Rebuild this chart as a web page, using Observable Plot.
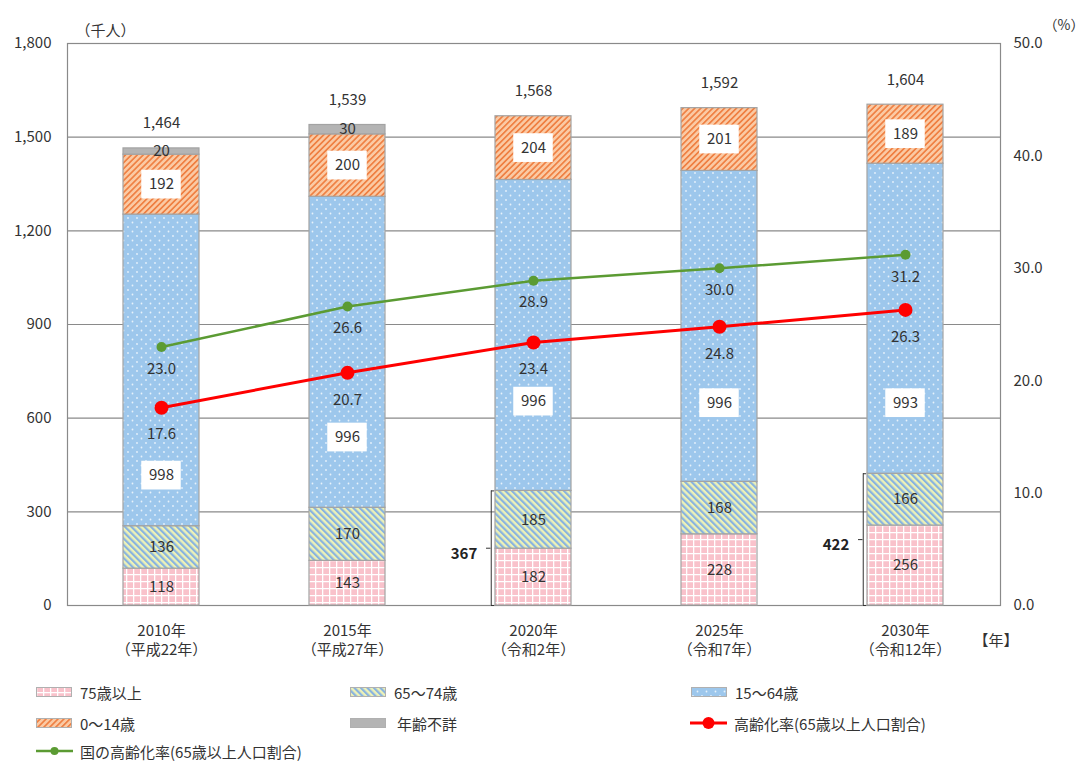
<!DOCTYPE html>
<html>
<head>
<meta charset="utf-8">
<script src="https://cdn.jsdelivr.net/npm/d3@7"></script>
<script src="https://cdn.jsdelivr.net/npm/@observablehq/plot@0.6"></script>
<style>
  body { margin: 0; background: #fff; font-family: "Noto Sans CJK JP", "Noto Sans", sans-serif; color: #333; }
  #wrap { position: relative; width: 1086px; height: 762px; overflow: hidden; }
  #legend { position: absolute; left: 0; top: 670px; width: 1086px; height: 92px; }
  .item { position: absolute; display: flex; align-items: center; font-size: 15px; color: #333; white-space: nowrap; }
</style>
</head>
<body>
<div id="wrap">
  <div id="chart"></div>
  <div id="legend"></div>
</div>
<script>
// ---- data ----
const years = ["2010", "2015", "2020", "2025", "2030"];
const yearLabels = ["2010年\n（平成22年）", "2015年\n（平成27年）", "2020年\n（令和2年）", "2025年\n（令和7年）", "2030年\n（令和12年）"];
const categories = ["75歳以上", "65～74歳", "15～64歳", "0～14歳", "年齢不詳"];
const age75plus = [118, 143, 182, 228, 256];
const age65to74 = [136, 170, 185, 168, 166];
const age15to64 = [998, 996, 996, 996, 993];
const age0to14 = [192, 200, 204, 201, 189];
const ageUnknown = [20, 30, 0, 0, 0];
const totals = [1464, 1539, 1568, 1592, 1604];
const agingRate = [17.6, 20.7, 23.4, 24.8, 26.3];
const nationalRate = [23.0, 26.6, 28.9, 30.0, 31.2];
const elderlyBracket = [null, null, 367, null, 422];
const leftTicks = [0, 300, 600, 900, 1200, 1500, 1800];
const rightTicks = [0, 10, 20, 30, 40, 50];

// label anchors for the 15-64 segment (thousand-person units, placement only)
const mid15LabelAt = [416, 538, 653, 648, 648];

// ---- layout ----
const W = 1086, H = 670;
const mL = 67, mR = 86, mT = 43, mB = 65;
const pInner = 0.59;
const bw = (W - mL - mR) / years.length * (1 - pInner);
const k = 1800 / 50; // % -> thousand scale factor

const series = [age75plus, age65to74, age15to64, age0to14, ageUnknown];
const table = [];
years.forEach((y, i) => {
  let cum = 0;
  series.forEach((s, j) => {
    const v = s[i];
    if (v > 0) table.push({year: y, cat: categories[j], value: v, mid: cum + v / 2});
    cum += v;
  });
});
const lab75 = table.filter(d => d.cat === categories[0]);
const lab65 = table.filter(d => d.cat === categories[1]);
const lab0 = table.filter(d => d.cat === categories[3]);
const labUnk = table.filter(d => d.cat === categories[4]);
const lab15 = years.map((y, i) => ({year: y, value: age15to64[i], pos: mid15LabelAt[i]}));
const boxed = [...lab15.map(d => ({year: d.year, pos: d.pos})), ...lab0.map(d => ({year: d.year, pos: d.mid}))];
const totalData = years.map((y, i) => ({year: y, total: totals[i]}));
const rateData = years.map((y, i) => ({year: y, v: agingRate[i]}));
const natData = years.map((y, i) => ({year: y, v: nationalRate[i]}));
const brData = years.map((y, i) => ({year: y, v: elderlyBracket[i]})).filter(d => d.v != null);

const patterns = ["url(#p75)", "url(#p65)", "url(#p15)", "url(#p0)", "#b4b4b4"];
const txt = "#333";

const chart = Plot.plot({
  width: W, height: H,
  marginLeft: mL, marginRight: mR, marginTop: mT, marginBottom: mB,
  style: {fontFamily: '"Noto Sans CJK JP", "Noto Sans", sans-serif', fontSize: "15px", color: txt, background: "#fff"},
  x: {type: "band", domain: years, paddingInner: pInner, paddingOuter: pInner / 2, axis: null},
  y: {domain: [0, 1800], axis: null},
  color: {domain: categories, range: patterns},
  marks: [
    Plot.gridY(leftTicks, {stroke: "#8a8a8a", strokeOpacity: 1, strokeWidth: 1.2}),
    Plot.frame({stroke: "#8a8a8a", strokeWidth: 1.2}),
    Plot.axisY({ticks: leftTicks, tickSize: 0, tickPadding: 16, tickFormat: d3.format(","), fill: txt, label: null}),
    Plot.axisY({anchor: "right", ticks: rightTicks.map(t => t * k), tickSize: 0, tickPadding: 13, tickFormat: d => (d / k).toFixed(1), fill: txt, label: null}),
    Plot.axisX({ticks: years, tickSize: 0, tickPadding: 17, lineHeight: 1.27, tickFormat: (d) => yearLabels[years.indexOf(d)], fill: txt, label: null}),
    Plot.barY(table, {x: "year", y: "value", fill: "cat", stroke: "#a3a3a3", strokeWidth: 1.2}),
    Plot.rect(boxed, {x: "year", y1: d => d.pos - 46, y2: d => d.pos + 46, fill: "white", insetLeft: (bw - 40) / 2, insetRight: (bw - 40) / 2}),
    Plot.text(lab75, {x: "year", y: "mid", text: d => d.value, fill: txt}),
    Plot.text(lab65, {x: "year", y: "mid", text: d => d.value, fill: txt}),
    Plot.text(lab0, {x: "year", y: "mid", text: d => d.value, fill: txt}),
    Plot.text(labUnk, {x: "year", y: "mid", text: d => d.value, fill: txt}),
    Plot.text(lab15, {x: "year", y: "pos", text: d => d.value, fill: txt}),
    Plot.text(totalData, {x: "year", y: "total", text: d => d3.format(",")(d.total), dy: -25, fill: txt}),
    // brackets
    Plot.ruleX(brData, {x: "year", y1: 0, y2: "v", dx: -bw / 2 - 4, stroke: "#333", strokeWidth: 1}),
    Plot.tickY(brData, {x: "year", y: "v", insetLeft: -4, insetRight: bw + 0.5, stroke: "#333"}),
    Plot.tickY(brData, {x: "year", y: 0, insetLeft: -4, insetRight: bw + 0.5, stroke: "#333"}),
    Plot.tickY(brData, {x: "year", y: d => d.v / 2, insetLeft: -9, insetRight: bw + 4, stroke: "#333"}),
    Plot.text(brData, {x: "year", y: d => d.v / 2, text: d => d.v, textAnchor: "end", dx: -bw / 2 - 18, dy: 6, fontWeight: "bold", fill: "#222"}),
    // lines
    Plot.line(natData, {x: "year", y: d => d.v * k, stroke: "#5b9b33", strokeWidth: 2.5}),
    Plot.dot(natData, {x: "year", y: d => d.v * k, r: 5, fill: "#5b9b33"}),
    Plot.text(natData, {x: "year", y: d => d.v * k, text: d => d.v.toFixed(1), dy: 22, fill: txt}),
    Plot.line(rateData, {x: "year", y: d => d.v * k, stroke: "#ff0000", strokeWidth: 3}),
    Plot.dot(rateData, {x: "year", y: d => d.v * k, r: 7, fill: "#ff0000"}),
    Plot.text(rateData, {x: "year", y: d => d.v * k, text: d => d.v.toFixed(1), dy: 27, fill: txt}),
    // unit labels
    Plot.text(["（千人）"], {frameAnchor: "top-left", dx: 8, dy: -18, fill: txt}),
    Plot.text(["（%）"], {frameAnchor: "top-right", dx: 84, dy: -23, textAnchor: "end", fill: txt, fontSize: 14}),
    Plot.text(["【年】"], {frameAnchor: "bottom-right", dx: 18, dy: 40, fill: txt})
  ]
});

// pattern definitions
const svg = d3.select(chart);
const defs = svg.insert("defs", ":first-child");
{
  const p = defs.append("pattern").attr("id", "p75").attr("patternUnits", "userSpaceOnUse").attr("width", 7).attr("height", 7);
  p.append("rect").attr("width", 7).attr("height", 7).attr("fill", "#f9c2cb");
  p.append("path").attr("d", "M0,0.6H7M0.6,0V7").attr("stroke", "#fff").attr("stroke-width", 1.4);
}
{
  const p = defs.append("pattern").attr("id", "p65").attr("patternUnits", "userSpaceOnUse").attr("width", 4.6).attr("height", 4.6).attr("patternTransform", "rotate(-45)");
  p.append("rect").attr("width", 4.6).attr("height", 4.6).attr("fill", "#eef2b6");
  p.append("rect").attr("width", 2.2).attr("height", 4.6).attr("fill", "#88b3e0");
}
{
  const p = defs.append("pattern").attr("id", "p15").attr("patternUnits", "userSpaceOnUse").attr("width", 9).attr("height", 9);
  p.append("rect").attr("width", 9).attr("height", 9).attr("fill", "#9dc7ec");
  p.append("circle").attr("cx", 2).attr("cy", 2).attr("r", 0.9).attr("fill", "#fff").attr("fill-opacity", 0.75);
  p.append("circle").attr("cx", 6.5).attr("cy", 6.5).attr("r", 0.9).attr("fill", "#fff").attr("fill-opacity", 0.75);
}
{
  const p = defs.append("pattern").attr("id", "p0").attr("patternUnits", "userSpaceOnUse").attr("width", 4.2).attr("height", 4.2).attr("patternTransform", "rotate(45)");
  p.append("rect").attr("width", 4.2).attr("height", 4.2).attr("fill", "#fbcaa4");
  p.append("rect").attr("width", 1.7).attr("height", 4.2).attr("fill", "#ef8043");
}
document.getElementById("chart").appendChild(chart);

// legend
const legend = d3.select("#legend");
const items = [
  {label: categories[0], fill: patterns[0], x: 36, y: 22},
  {label: categories[1], fill: patterns[1], x: 350, y: 22},
  {label: categories[2], fill: patterns[2], x: 691, y: 22},
  {label: categories[3], fill: patterns[3], x: 36, y: 53},
  {label: categories[4], fill: patterns[4], x: 350, y: 53, gap: 10},
  {label: "高齢化率(65歳以上人口割合)", line: "#ff0000", r: 6, sw: 3, x: 690, y: 53},
  {label: "国の高齢化率(65歳以上人口割合)", line: "#5b9b33", r: 4, sw: 2.5, x: 36, y: 81}
];
items.forEach(it => {
  const div = legend.append("div").attr("class", "item").style("left", it.x + "px").style("top", (it.y - 11) + "px").style("height", "22px");
  const s = div.append("svg").attr("width", 37).attr("height", 14).style("margin-right", (it.gap || 7) + "px");
  if (it.line) {
    s.append("line").attr("x1", 0).attr("x2", 37).attr("y1", 7).attr("y2", 7).attr("stroke", it.line).attr("stroke-width", it.sw);
    s.append("circle").attr("cx", 18.5).attr("cy", 7).attr("r", it.r).attr("fill", it.line);
  } else {
    s.append("rect").attr("x", 0.5).attr("y", 2.5).attr("width", 35).attr("height", 9).attr("fill", it.fill).attr("stroke", "#b0b0b0").attr("stroke-width", 1);
  }
  div.append("span").text(it.label);
});
</script>
</body>
</html>
